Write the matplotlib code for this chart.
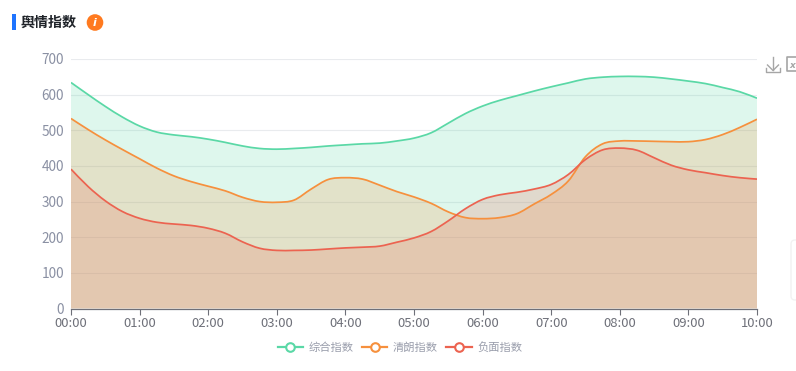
"""Public opinion index area chart, saved as out.png."""

import matplotlib
matplotlib.use("Agg")
import matplotlib.pyplot as plt
from matplotlib.lines import Line2D
from matplotlib.patches import Circle, FancyBboxPatch, PathPatch, Rectangle
from matplotlib.path import Path

plt.rcParams["font.family"] = ["Noto Sans CJK SC", "DejaVu Sans"]

W, H = 796, 371

# quarter-hour readings, 00:00 to 10:00
overall = [634, 600, 567, 537, 512, 495, 487, 482, 475, 466, 456, 449, 447, 449,
           452, 456, 459, 462, 464, 470, 478, 493, 520, 547, 568, 584, 597, 610,
           622, 633, 644, 649, 651, 651, 649, 644, 638, 631, 620, 608, 590]
positive = [533, 502, 473, 446, 420, 394, 372, 356, 343, 330, 312, 300, 298, 304,
            335, 362, 367, 363, 346, 328, 313, 295, 271, 255, 252, 255, 266, 293,
            320, 358, 426, 462, 470, 470, 469, 468, 468, 474, 488, 508, 531]
negative = [391, 342, 302, 272, 253, 242, 237, 233, 225, 211, 187, 169, 163, 163,
            164, 167, 170, 172, 175, 186, 198, 216, 246, 280, 306, 319, 326, 335,
            348, 376, 418, 445, 450, 444, 423, 402, 389, 381, 373, 367, 363]
hour_labels = ["00:00", "01:00", "02:00", "03:00", "04:00", "05:00",
               "06:00", "07:00", "08:00", "09:00", "10:00"]
y_ticks = [0, 100, 200, 300, 400, 500, 600, 700]
series_names = ["综合指数", "清朗指数", "负面指数"]
series_colors = ["#5ad8a6", "#f6903d", "#ec6350"]


def smooth_verts(xs, ys):
    """Bezier control points so the line runs smoothly through every reading."""
    verts = [(xs[0], ys[0])]
    for i in range(len(xs) - 1):
        prev_i, next_i = max(i - 1, 0), min(i + 2, len(xs) - 1)
        c1 = (xs[i] + (xs[i + 1] - xs[prev_i]) / 6, ys[i] + (ys[i + 1] - ys[prev_i]) / 6)
        c2 = (xs[i + 1] - (xs[next_i] - xs[i]) / 6, ys[i + 1] - (ys[next_i] - ys[i]) / 6)
        verts += [c1, c2, (xs[i + 1], ys[i + 1])]
    return verts


fig = plt.figure(figsize=(W / 100, H / 100), dpi=100)
ax = fig.add_axes([71 / W, 1 - 308.5 / H, 686 / W, 249.5 / H])

times = [i / 4 for i in range(len(overall))]
for values, color in zip([overall, positive, negative], series_colors):
    verts = smooth_verts(times, values)
    codes = [Path.MOVETO] + [Path.CURVE4] * (len(verts) - 1)
    area = Path(verts + [(times[-1], 0), (times[0], 0), verts[0]],
                codes + [Path.LINETO, Path.LINETO, Path.CLOSEPOLY])
    ax.add_patch(PathPatch(area, fc=color, ec="none", alpha=0.2, zorder=2))
    ax.add_patch(PathPatch(Path(verts, codes), fc="none", ec=color, lw=1.25, zorder=3,
                           capstyle="butt"))

ax.set_xlim(0, 10)
ax.set_ylim(0, 700)
ax.set_xticks(range(len(hour_labels)))
ax.set_xticklabels(hour_labels, fontsize=9.4, color="#6e7079")
ax.set_yticks(y_ticks)
ax.set_yticklabels(y_ticks, fontsize=9.8, color="#8a90a3")
ax.tick_params(axis="x", length=4, width=0.8, color="#6e7079", pad=2)
ax.tick_params(axis="y", length=0, pad=5)
ax.grid(axis="y", color="#e9ebee", lw=0.8, zorder=1)
ax.set_axisbelow(True)
for side in ("top", "left", "right"):
    ax.spines[side].set_visible(False)
ax.spines["bottom"].set_color("#6e7079")
ax.spines["bottom"].set_linewidth(0.9)

handles = [
    Line2D([], [], color=c, lw=1.6, marker="o", ms=6.2, mfc="white", mec=c, mew=1.5)
    for c in series_colors
]
fig.legend(
    handles,
    series_names,
    loc="center",
    bbox_to_anchor=(400 / W, 1 - 347.5 / H),
    ncol=3,
    frameon=False,
    fontsize=8.1,
    labelcolor="#9a9eac",
    handlelength=2.25,
    handletextpad=0.5,
    columnspacing=0.75,
)

# overlay in pixel coordinates for the title block and toolbox icons
deco = fig.add_axes([0, 0, 1, 1], zorder=5)
deco.set_xlim(0, W)
deco.set_ylim(H, 0)
deco.axis("off")
deco.add_patch(Rectangle((12, 14), 4, 16, color="#1e74ff", lw=0))
deco.text(21, 22.5, "舆情指数", fontsize=10.1, fontweight="bold", color="#1f2329",
          ha="left", va="center")
deco.add_patch(Circle((95, 22.5), 8.3, color="#ff7a1f", lw=0))
deco.text(95, 22.5, "i", fontsize=8, color="white", fontweight="bold", style="italic",
          ha="center", va="center", family="DejaVu Sans")

icon = "#a6a6a6"
deco.plot([773, 773], [57, 70], color=icon, lw=1)
deco.plot([767.5, 773, 778.5], [65, 70.5, 65], color=icon, lw=1)
deco.plot([766, 766, 780, 780], [68, 72, 72, 68], color=icon, lw=1)
deco.plot([796, 787, 787, 796], [56.5, 56.5, 71, 71], color=icon, lw=1.2)
deco.text(792, 65, "x", fontsize=6.5, color=icon, style="italic", fontweight="bold",
          ha="center", va="center", family="DejaVu Sans")
deco.add_patch(FancyBboxPatch((791, 240), 12, 60, boxstyle="round,pad=0,rounding_size=4",
                              fc="white", ec="#f2f2f2", lw=1))

fig.savefig("out.png", dpi=100)
